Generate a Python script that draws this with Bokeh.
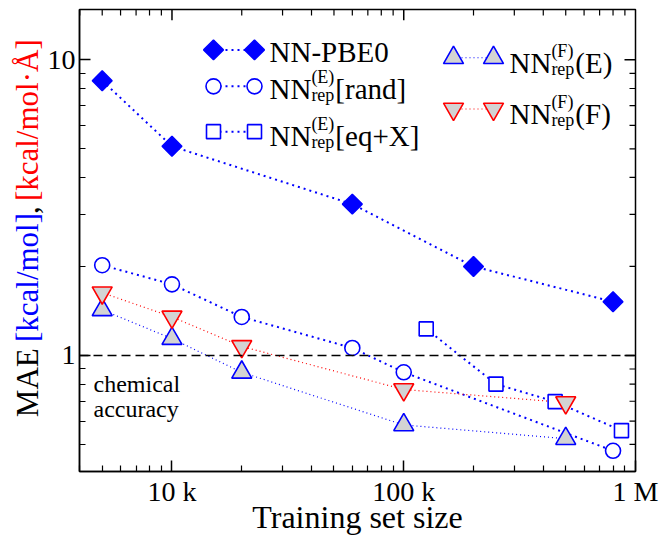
import math
from bokeh.plotting import figure
from bokeh.layouts import row
from bokeh.models import Range1d, FixedTicker, Label, Span
from bokeh.embed import file_html
from bokeh.resources import INLINE

# ---------------- data ----------------
n_pbe0 = [5000, 10000, 60000, 200000, 800000]
mae_pbe0 = [8.5, 5.1, 3.25, 2.0, 1.52]

n_rand = [5000, 10000, 20000, 60000, 100000, 800000]
mae_rand = [2.02, 1.74, 1.35, 1.06, 0.877, 0.476]

n_eqx = [125000, 250000, 450000, 870000]
mae_eqx = [1.23, 0.80, 0.698, 0.557]

n_fe = [5000, 10000, 20000, 100000, 500000]
mae_fe = [1.426, 1.14, 0.877, 0.582, 0.523]

n_ff = [5000, 10000, 20000, 100000, 500000]
mae_ff = [1.63, 1.35, 1.073, 0.767, 0.693]

chem_acc = 1.0

x_major = [1e4, 1e5, 1e6]
x_labels = ["10 k", "100 k", "1 M"]
y_major = [1, 10]
y_labels = ["1", "10"]

# ---------------- layout constants ----------------
FONT = "Liberation Serif"
BLUE = "#0000ff"
RED = "#ff0000"
GREY = "#d3d3d3"
XR = (3990, 1.0e6)
YR = (0.405, 14.8)
W_, H_ = 660, 537
LW = 44                       # width of the strip that carries the y title
FL, FT, FR, FB = 79, 9, 635, 478   # frame edges in page px

x_minor = [k * 10 ** e for e in (3, 4, 5) for k in range(2, 10)]
y_minor = [k * 10 ** e for e in (-1, 0) for k in range(2, 10)]

p = figure(width=W_ - LW, height=H_, x_axis_type="log", y_axis_type="log",
           x_range=Range1d(*XR), y_range=Range1d(*YR),
           output_backend="svg", toolbar_location=None,
           min_border_left=FL - LW, min_border_right=W_ - FR, min_border_top=FT,
           min_border_bottom=H_ - FB)
p.grid.visible = False
p.outline_line_color = "black"
p.outline_line_width = 1.5
p.background_fill_color = "white"
p.border_fill_color = "white"

MAJ_LEN, MIN_LEN = 11, 6

for ax in (p.xaxis[0], p.yaxis[0]):
    ax.axis_line_width = 1.5
    ax.axis_line_color = "black"
    ax.major_tick_in = MAJ_LEN
    ax.major_tick_out = 0
    ax.minor_tick_in = MIN_LEN
    ax.minor_tick_out = 0
    ax.major_tick_line_width = 1.5
    ax.minor_tick_line_width = 1.2
    ax.major_label_text_font = FONT
    ax.major_label_text_color = "black"
    ax.major_label_text_font_size = "28px"
    ax.major_label_standoff = 4

xa = p.xaxis[0]
ya = p.yaxis[0]
xa.ticker = FixedTicker(ticks=x_major, minor_ticks=x_minor)
ya.ticker = FixedTicker(ticks=y_major, minor_ticks=y_minor)
xa.major_label_overrides = {t: s for t, s in zip(x_major, x_labels)}
ya.major_label_overrides = {t: s for t, s in zip(y_major, y_labels)}

xa.axis_label = "Training set size"
xa.axis_label_text_font = FONT
xa.axis_label_text_font_style = "normal"
xa.axis_label_text_font_size = "32px"
xa.axis_label_text_color = "black"
xa.axis_label_standoff = -11

# mirrored ticks on the top and right edges (tick length converted to data units)
lx0, lx1 = math.log10(XR[0]), math.log10(XR[1])
ly0, ly1 = math.log10(YR[0]), math.log10(YR[1])
px_per_dec_x = (FR - FL) / (lx1 - lx0)
px_per_dec_y = (FB - FT) / (ly1 - ly0)


def top_ticks(ticks, length, width):
    y0 = [YR[1]] * len(ticks)
    y1 = [10 ** (ly1 - length / px_per_dec_y)] * len(ticks)
    p.segment(ticks, y0, ticks, y1, line_color="black", line_width=width)


def right_ticks(ticks, length, width):
    x0 = [XR[1]] * len(ticks)
    x1 = [10 ** (lx1 - length / px_per_dec_x)] * len(ticks)
    p.segment(x0, ticks, x1, ticks, line_color="black", line_width=width)


top_ticks([t for t in x_major if XR[0] < t < XR[1]], MAJ_LEN, 1.5)
top_ticks([t for t in x_minor if XR[0] < t < XR[1]], MIN_LEN, 1.2)
right_ticks([t for t in y_major if YR[0] < t < YR[1]], MAJ_LEN, 1.5)
right_ticks([t for t in y_minor if YR[0] < t < YR[1]], MIN_LEN, 1.2)

# chemical accuracy line
p.add_layout(Span(location=chem_acc, dimension="width", line_color="black",
                  line_width=1.6, line_dash="9 5"))

THICK = dict(line_width=2.0, line_dash="2 4")
THIN = dict(line_width=1.2, line_dash="1 3")

series = [
    (n_pbe0, mae_pbe0, BLUE, THICK, dict(marker="square", angle=math.pi / 4, size=14,
                                         fill_color=BLUE, line_color=BLUE, line_width=1.5)),
    (n_rand, mae_rand, BLUE, THICK, dict(marker="circle", size=15, fill_color="white",
                                         line_color=BLUE, line_width=1.6)),
    (n_eqx, mae_eqx, BLUE, THICK, dict(marker="square", size=14, fill_color="white",
                                       line_color=BLUE, line_width=1.6)),
    (n_fe, mae_fe, BLUE, THIN, dict(marker="triangle", size=20, fill_color=GREY,
                                    line_color=BLUE, line_width=1.6)),
    (n_ff, mae_ff, RED, THIN, dict(marker="inverted_triangle", size=20, fill_color=GREY,
                                   line_color=RED, line_width=1.6)),
]
for xs, ys, col, ls, mk in series:
    p.line(xs, ys, line_color=col, **ls)
for xs, ys, col, ls, mk in series:
    p.scatter(xs, ys, **mk)


# ---------------- helpers for annotations ----------------
def to_data(X, Y):
    lx = lx0 + (X - FL) / px_per_dec_x
    ly = ly0 + (FB - Y) / px_per_dec_y
    return 10 ** lx, 10 ** ly


def sx(X):
    return X - FL


def sy(Y):
    return FB - Y


W = {"N": .722, "-": .333, "P": .556, "B": .667, "E": .611, "0": .5, "(": .333,
     ")": .333, "r": .333, "e": .444, "p": .5, "[": .333, "]": .333, "a": .444,
     "n": .5, "d": .5, "q": .5, "+": .564, "X": .722, "F": .556, " ": .25,
     "M": .889, "A": .722, "k": .5, "c": .444, "l": .278, "/": .278, "m": .778,
     "o": .5, ",": .25, "·": .25, "Å": .722}


def tw(s, size):
    return sum(W.get(ch, .5) for ch in s) * size


def make_label(x, y, s, size, color="black", align="left", angle=0.0,
               baseline="alphabetic", units="screen"):
    return Label(x=x, y=y, x_units=units, y_units=units,
                 text=s, text_font=FONT, text_font_size=f"{size}px",
                 text_color=color, text_align=align,
                 text_baseline=baseline, angle=angle)


def text(X, Y, s, size, color="black", align="left"):
    p.add_layout(make_label(sx(X), sy(Y), s, size, color, align))


MAIN, SCRIPT = 29, 18


def nn_label(X, B, sup, tail):
    text(X, B, "NN", MAIN)
    x2 = X + tw("NN", MAIN)
    text(x2, B - 12, sup, SCRIPT)
    text(x2, B + 6, "rep", SCRIPT)
    x3 = x2 + max(tw(sup, SCRIPT), tw("rep", SCRIPT)) + 1
    text(x3, B, tail, MAIN)


# ---------------- legend ----------------
legend_rows = [
    (series[0], 213, 254, 50, lambda: text(269, 58, "NN-PBE0", MAIN)),
    (series[1], 213, 254, 87, lambda: nn_label(269, 95, "(E)", "[rand]")),
    (series[2], 213, 254, 133, lambda: nn_label(269, 142, "(E)", "[eq+X]")),
    (series[3], 453, 493, 58, lambda: nn_label(509, 69, "(F)", "(E)")),
    (series[4], 453, 493, 110, lambda: nn_label(509, 120, "(F)", "(F)")),
]
for (xs, ys, col, ls, mk), X1, X2, Y, draw in legend_rows:
    a = to_data(X1, Y)
    b = to_data(X2, Y)
    p.line([a[0], b[0]], [a[1], b[1]], line_color=col, **ls)
    p.scatter([a[0], b[0]], [a[1], b[1]], **mk)
    draw()

# chemical accuracy note
text(93, 390, "chemical", 24)
text(93, 415, "accuracy", 24)

# ---------------- y title strip (multi-coloured, rotated) ----------------
# its frame is aligned with the main frame (rows align plot borders), so the
# y range is chosen such that data y == page height - page y
ytitle = figure(width=LW, height=H_, x_range=Range1d(0, LW),
                y_range=Range1d(H_ - FB, H_ - FT),
                output_backend="svg", toolbar_location=None,
                min_border_left=0, min_border_right=0, min_border_top=FT,
                min_border_bottom=H_ - FB)
ytitle.axis.visible = False
ytitle.grid.visible = False
ytitle.outline_line_color = None
ytitle.background_fill_color = "white"
ytitle.border_fill_color = "white"

YS = 31
pieces = [("MAE", "black"), ("[kcal/mol]", BLUE), (",", "black"), ("[kcal/mol·Å]", RED)]
gaps = [tw(" ", YS), 0, tw(" ", YS), 0]
total = sum(tw(s, YS) for s, _ in pieces) + sum(gaps)
pos = 232 + total / 2          # page y of the title's lower end
for (s, c), g in zip(pieces, gaps):
    w = tw(s, YS)
    ytitle.add_layout(make_label(27, H_ - (pos - w / 2), s, YS, color=c,
                                 align="center", baseline="middle",
                                 angle=math.pi / 2, units="data"))
    pos -= w + g

layout = row(ytitle, p)
open("out.html", "w").write(file_html(layout, INLINE))
